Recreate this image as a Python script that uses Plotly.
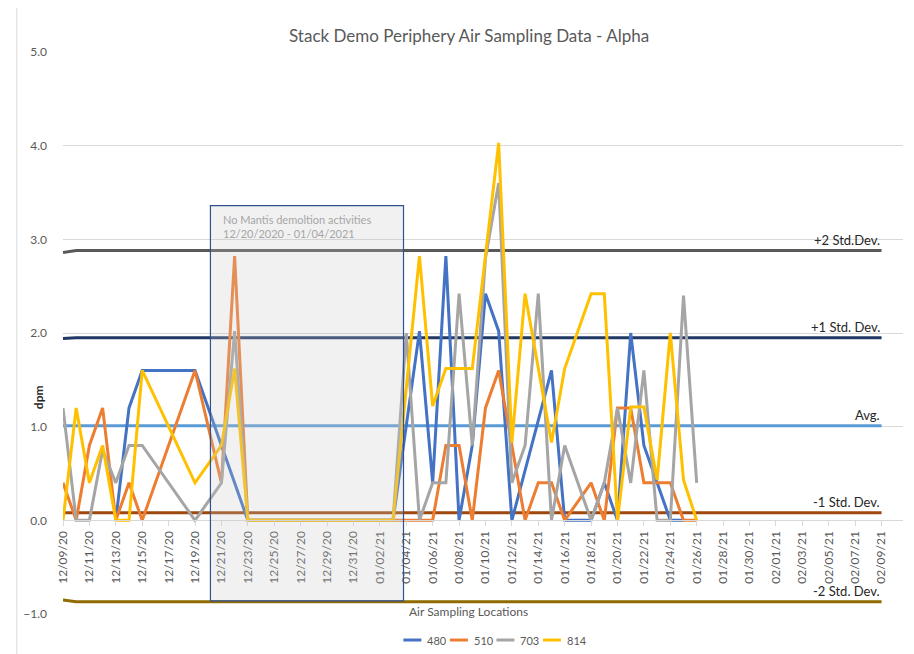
import pandas as pd
import plotly.graph_objects as go


# ----------------------------
# DATA
# ----------------------------
start_day = "2020-12-09"
n_days = 49  # 12/09/20 .. 01/26/21

s480 = [None, None, None, None, 0, 1.2, 1.6, None, None, None,
        1.6, None, None, None, 0, 0, 0, 0, 0, 0,
        0, 0, 0, 0, 0, 0, None, 2.02, 0.4, 2.82,
        0, 0.8, 2.42, 2.02, 0, None, None, 1.6, 0, 0,
        0, 0.4, 0, 2.0, 0.8, 0.4, 0, 0, None]

s510 = [0.4, 0, 0.8, 1.2, 0, 0.4, 0, None, None, None,
        1.6, None, 0.4, 2.82, 0, 0, 0, 0, 0, 0,
        0, 0, 0, 0, 0, 0, 0, 0, 0, 0.8,
        0.8, 0, 1.2, 1.6, 0.8, 0, 0.4, 0.4, 0, None,
        0.4, 0, 1.2, 1.2, 0.4, 0.4, 0.4, 0, 0]

s703 = [1.2, 0, 0, 0.75, 0.4, 0.8, 0.8, None, None, None,
        0, None, 0.4, 2.02, 0, 0, 0, 0, 0, 0,
        0, 0, 0, 0, 0, 0, 2.0, 0, 0.4, 0.4,
        2.42, 0.8, 2.8, 3.6, 0.4, 0.8, 2.42, 0, 0.8, None,
        0, 0.4, 1.2, 0.4, 1.6, 0, 0, 2.4, 0.4]

s814 = [0, 1.2, 0.4, 0.8, 0, 0, 1.6, None, None, None,
        0.4, None, 0.8, 1.62, 0, 0, 0, 0, 0, 0,
        0, 0, 0, 0, 0, 0, None, 2.82, 1.22, 1.62,
        1.62, 1.62, None, 4.03, 0.83, 2.42, None, 0.83, 1.62, None,
        2.42, 2.42, 0, 1.21, 1.21, 0.43, 2.0, 0.43, 0]

series_names = ["480", "510", "703", "814"]
series_colors = ["#4472C4", "#ED7D31", "#A5A5A5", "#FFC000"]

# reference lines (first day value, level afterwards)
ref_names = ["+2 Std.Dev.", "+1 Std. Dev.", "Avg.", "-1 Std. Dev.", "-2 Std. Dev."]
ref_first = [2.86, 1.94, 1.01, 0.08, -0.85]
ref_level = [2.88, 1.95, 1.01, 0.08, -0.87]
ref_colors = ["#595959", "#203864", "#5B9BD5", "#9E480E", "#8F6B00"]
ref_end = "2021-02-09"

dates = pd.date_range(start_day, periods=n_days, freq="D")
ref_dates = pd.date_range(start_day, ref_end, freq="D")

FONT = "Lato, Calibri, sans-serif"
GREY = "#595959"

fig = go.Figure()

# ----------------------------
# REFERENCE LINES
# ----------------------------
for name, first, level, color in zip(ref_names, ref_first, ref_level, ref_colors):
    y = [first] + [level] * (len(ref_dates) - 1)
    fig.add_trace(go.Scatter(
        x=ref_dates, y=y, mode="lines",
        line=dict(color=color, width=3),
        showlegend=False, hoverinfo="skip"
    ))
    fig.add_annotation(
        x=ref_dates[-1], y=level, text=name, showarrow=False,
        xanchor="right", yanchor="bottom", yshift=1,
        font=dict(family=FONT, size=13, color="#262626")
    )

# ----------------------------
# SAMPLING SERIES
# ----------------------------
for name, vals, color in zip(series_names, [s480, s510, s703, s814], series_colors):
    fig.add_trace(go.Scatter(
        x=dates, y=vals, mode="lines", name=name,
        line=dict(color=color, width=3),
        connectgaps=True, showlegend=False
    ))

# compact legend below the axis title (Excel style)
leg_x0, leg_step, leg_y = 0.4052, 0.0554, -0.0463
for i, (name, color) in enumerate(zip(series_names, series_colors)):
    x0 = leg_x0 + i * leg_step
    fig.add_shape(
        type="line", xref="paper", yref="paper",
        x0=x0, x1=x0 + 0.0214, y0=leg_y, y1=leg_y,
        line=dict(color=color, width=3)
    )
    fig.add_annotation(
        xref="paper", yref="paper", x=x0 + 0.026, y=leg_y,
        text=name, showarrow=False, xanchor="left", yanchor="middle",
        font=dict(family=FONT, size=11, color=GREY)
    )

# ----------------------------
# NO-DEMOLITION BOX
# ----------------------------
fig.add_shape(
    type="rect", xref="x", yref="y",
    x0="2020-12-20 04:00", x1="2021-01-03 19:00", y0=-0.86, y1=3.36,
    line=dict(color="#2F528F", width=1.2),
    fillcolor="rgba(200,200,200,0.25)", layer="above"
)
fig.add_annotation(
    xref="paper", yref="paper", x=0.188, y=0.690,
    text="No Mantis demoltion activities<br>12/20/2020 - 01/04/2021",
    showarrow=False, xanchor="left", yanchor="middle", align="left",
    font=dict(family=FONT, size=11, color="#A6A6A6")
)

# chart area border
fig.add_shape(
    type="rect", xref="paper", yref="paper",
    x0=-0.055, x1=1.01, y0=-0.075, y1=1.088,
    line=dict(color="#D9D9D9", width=1), layer="below"
)

# ----------------------------
# TITLES
# ----------------------------
fig.add_annotation(
    xref="paper", yref="paper", x=0.483, y=1.052,
    text="Stack Demo Periphery Air Sampling Data - Alpha",
    showarrow=False, font=dict(family=FONT, size=17, color=GREY)
)
fig.add_annotation(
    xref="paper", yref="paper", x=-0.041, y=0.386,
    text="<b>dpm</b>", textangle=-90, showarrow=False,
    font=dict(family=FONT, size=12, color="#262626")
)
fig.add_annotation(
    xref="paper", yref="paper", x=0.483, y=-0.012,
    text="Air Sampling Locations", showarrow=False,
    font=dict(family=FONT, size=12, color=GREY)
)

# page body adds an 8px offset, so the figure is 8px smaller and shifted
fig.update_layout(
    width=906, height=646,
    margin=dict(l=55, r=11, t=44, b=40, autoexpand=False),
    plot_bgcolor="white", paper_bgcolor="white",
    font=dict(family=FONT, size=11, color=GREY),
    showlegend=False,
    xaxis=dict(
        type="date",
        range=["2020-12-09", "2021-02-10 15:00"],
        tick0="2020-12-09", dtick=2 * 86400000,
        tickformat="%m/%d/%y", tickangle=-90,
        anchor="free", position=1 / 6,
        showgrid=False, showline=True, linecolor="#D9D9D9",
        ticks="outside", ticklen=5, tickcolor="#D9D9D9",
        tickfont=dict(family=FONT, size=12, color=GREY),
        automargin=False
    ),
    yaxis=dict(
        range=[-1, 5], dtick=1, tickformat=".1f",
        showgrid=True, gridcolor="#D9D9D9", zeroline=False,
        ticklabelstandoff=15, automargin=False,
        tickfont=dict(family=FONT, size=12, color=GREY)
    )
)

fig.write_html("out.html")
